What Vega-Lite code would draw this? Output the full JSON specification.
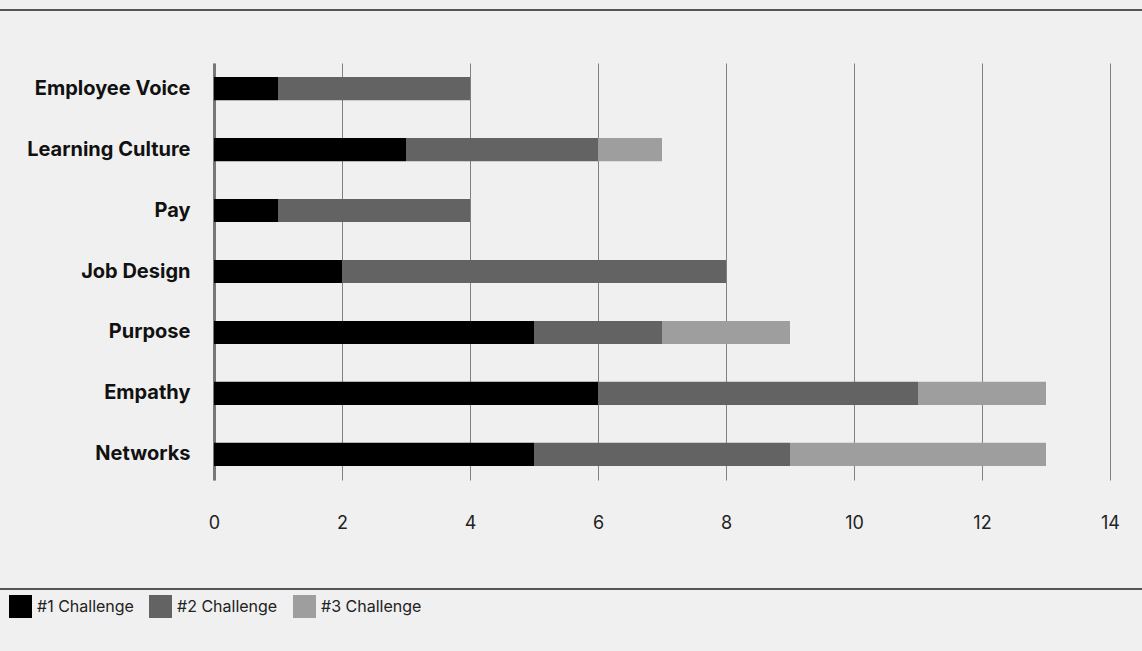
{
  "$schema": "https://vega.github.io/schema/vega-lite/v6.json",
  "background": "#f0f0f0",
  "padding": {"left": 0, "top": 9, "right": 0, "bottom": 33},
  "config": {"view": {"stroke": null}, "font": "Inter"},
  "columns": 1,
  "align": "none",
  "center": false,
  "spacing": 51,
  "concat": [
    {
      "width": 1142,
      "height": 0.01,
      "data": {"values": []},
      "mark": "rect",
      "encoding": {},
      "view": {"stroke": "#555555", "strokeWidth": 2}
    },
    {
      "width": 1142,
      "height": 417,
      "data": {
        "values": [
          {"category": "Employee Voice", "challenge": "#1 Challenge", "rank": 1, "count": 1},
          {"category": "Employee Voice", "challenge": "#2 Challenge", "rank": 2, "count": 3},
          {"category": "Learning Culture", "challenge": "#1 Challenge", "rank": 1, "count": 3},
          {"category": "Learning Culture", "challenge": "#2 Challenge", "rank": 2, "count": 3},
          {"category": "Learning Culture", "challenge": "#3 Challenge", "rank": 3, "count": 1},
          {"category": "Pay", "challenge": "#1 Challenge", "rank": 1, "count": 1},
          {"category": "Pay", "challenge": "#2 Challenge", "rank": 2, "count": 3},
          {"category": "Job Design", "challenge": "#1 Challenge", "rank": 1, "count": 2},
          {"category": "Job Design", "challenge": "#2 Challenge", "rank": 2, "count": 6},
          {"category": "Purpose", "challenge": "#1 Challenge", "rank": 1, "count": 5},
          {"category": "Purpose", "challenge": "#2 Challenge", "rank": 2, "count": 2},
          {"category": "Purpose", "challenge": "#3 Challenge", "rank": 3, "count": 2},
          {"category": "Empathy", "challenge": "#1 Challenge", "rank": 1, "count": 6},
          {"category": "Empathy", "challenge": "#2 Challenge", "rank": 2, "count": 5},
          {"category": "Empathy", "challenge": "#3 Challenge", "rank": 3, "count": 2},
          {"category": "Networks", "challenge": "#1 Challenge", "rank": 1, "count": 5},
          {"category": "Networks", "challenge": "#2 Challenge", "rank": 2, "count": 4},
          {"category": "Networks", "challenge": "#3 Challenge", "rank": 3, "count": 4}
        ]
      },
      "mark": {"type": "bar"},
      "encoding": {
        "y": {
          "field": "category",
          "type": "nominal",
          "sort": ["Employee Voice", "Learning Culture", "Pay", "Job Design", "Purpose", "Empathy", "Networks"],
          "scale": {"paddingInner": 0.62, "paddingOuter": 0.23},
          "axis": {
            "title": null,
            "ticks": false,
            "grid": false,
            "offset": -213,
            "labelPadding": 24,
            "labelFontSize": 20,
            "labelFontWeight": "bold",
            "labelColor": "#111111",
            "domainColor": "#777777",
            "domainWidth": 3
          }
        },
        "x": {
          "field": "count",
          "type": "quantitative",
          "stack": "zero",
          "scale": {"domain": [0, 14], "nice": false, "range": [213, 1109]},
          "axis": {
            "title": null,
            "values": [0, 2, 4, 6, 8, 10, 12, 14],
            "ticks": false,
            "domain": false,
            "grid": true,
            "gridColor": "#808080",
            "gridWidth": 1,
            "labelFlush": false,
            "labelFontSize": 18,
            "labelColor": "#222222",
            "labelPadding": 34,
            "minExtent": 57
          }
        },
        "color": {
          "field": "challenge",
          "type": "nominal",
          "scale": {
            "domain": ["#1 Challenge", "#2 Challenge", "#3 Challenge"],
            "range": ["#000000", "#636363", "#9e9e9e"]
          },
          "legend": {
            "title": null,
            "orient": "none",
            "legendX": 8,
            "legendY": 585,
            "direction": "horizontal",
            "symbolType": "square",
            "symbolSize": 529,
            "symbolStrokeWidth": 0,
            "symbolOpacity": 1,
            "labelFontSize": 16,
            "labelColor": "#222222",
            "labelOffset": 5,
            "columnPadding": 15
          }
        },
        "order": {"field": "rank", "type": "quantitative"}
      }
    },
    {
      "width": 1142,
      "height": 0.01,
      "data": {"values": []},
      "mark": "rect",
      "encoding": {},
      "view": {"stroke": "#555555", "strokeWidth": 2}
    }
  ]
}
